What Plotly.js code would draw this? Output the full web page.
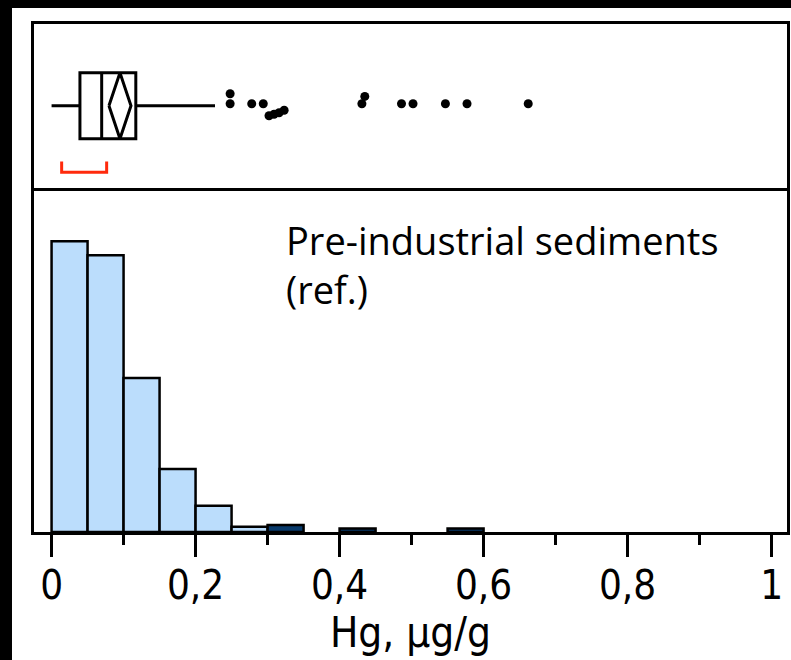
<!DOCTYPE html>
<html>
<head>
<meta charset="utf-8">
<script src="https://cdn.plot.ly/plotly-3.0.1.min.js"></script>
<style>html,body{margin:0;padding:0;background:#fff;}</style>
</head>
<body>
<div id="chart" style="width:791px;height:660px;"></div>
<script>
// ---- Histogram data (Hg, µg/g; bin width 0.05) ----
const binStart = [0, 0.05, 0.10, 0.15, 0.20, 0.25, 0.30, 0.40, 0.55];
const binCount = [166, 158, 88, 36, 15, 3, 4, 2, 2];
const binSelected = [0, 0, 0, 0, 0, 0, 1, 1, 1];
const binWidth = 0.05;

// ---- Box plot summary ----
const boxMin = [0.0];
const boxQ1 = [0.0394];
const boxMedian = [0.0696];
const boxQ3 = [0.117];
const boxUpperWhisker = [0.227];
const meanValue = 0.095;
const meanCI = [0.0797, 0.1103];
const shortestHalf = [0.014, 0.0765];

// ---- Outliers (x value, vertical jitter offset) ----
const outlierX = [0.248, 0.248, 0.278, 0.294, 0.302, 0.309, 0.316, 0.323, 0.431, 0.435, 0.486, 0.502, 0.547, 0.577, 0.662];
const outlierJitter = [0.147, 0.024, 0.024, 0.024, -0.122, -0.104, -0.086, -0.055, 0.024, 0.114, 0.024, 0.024, 0.024, 0.024, 0.024];

// ---- Axis ticks ----
const tickValues = [0, 0.2, 0.4, 0.6, 0.8, 1];
const tickLabels = ["0", "0,2", "0,4", "0,6", "0,8", "1"];
const minorTickValues = [0.1, 0.3, 0.5, 0.7, 0.9];

const axisTitle = "Hg, µg/g";
const labelText = "Pre-industrial sediments<br>(ref.)";

// ---- styling ----
const lightBlue = "rgb(187,221,252)";
const darkBlue = "rgb(8,58,107)";
const boxHeight = 0.807;
const halfH = boxHeight / 2;
const xRange = [-0.0244, 1.0214];

const traces = [
  {
    type: "bar",
    x: binStart,
    y: binCount,
    width: binWidth,
    offset: 0,
    marker: {
      color: binSelected.map(s => s ? darkBlue : lightBlue),
      line: {color: "black", width: 2.5}
    },
    xaxis: "x", yaxis: "y",
    hoverinfo: "skip"
  },
  {
    type: "box",
    orientation: "h",
    y: [0],
    lowerfence: boxMin,
    q1: boxQ1,
    median: boxMedian,
    q3: boxQ3,
    upperfence: boxUpperWhisker,
    width: boxHeight,
    whiskerwidth: 0,
    boxpoints: false,
    fillcolor: "white",
    line: {color: "black", width: 3},
    xaxis: "x2", yaxis: "y2",
    hoverinfo: "skip"
  },
  {
    type: "scatter",
    mode: "lines",
    x: [meanCI[0], meanValue, meanCI[1], meanValue, meanCI[0]],
    y: [0, halfH, 0, -halfH, 0],
    line: {color: "black", width: 3},
    xaxis: "x2", yaxis: "y2",
    hoverinfo: "skip"
  },
  {
    type: "scatter",
    mode: "markers",
    x: outlierX,
    y: outlierJitter,
    marker: {color: "black", size: 9},
    xaxis: "x2", yaxis: "y2",
    hoverinfo: "skip"
  },
  {
    type: "scatter",
    mode: "lines",
    x: [shortestHalf[0], shortestHalf[0], shortestHalf[1], shortestHalf[1]],
    y: [-0.681, -0.813, -0.813, -0.681],
    line: {color: "rgb(255,42,12)", width: 3},
    xaxis: "x2", yaxis: "y2",
    hoverinfo: "skip"
  }
];

const tickFont = {family: "DejaVu Sans Condensed, DejaVu Sans, sans-serif", size: 40, color: "black"};
const titleFont = {family: "DejaVu Sans Condensed, DejaVu Sans, sans-serif", size: 42, color: "black"};

const layout = {
  width: 791,
  height: 660,
  margin: {l: 34, r: 4, t: 24, b: 128, pad: 0},
  paper_bgcolor: "white",
  plot_bgcolor: "white",
  showlegend: false,
  xaxis: {
    domain: [0, 1],
    anchor: "y",
    range: xRange,
    showline: true, linewidth: 3, linecolor: "black", mirror: false,
    ticks: "outside", ticklen: 22, tickwidth: 3, tickcolor: "black",
    ticklabelstandoff: -6,
    tickmode: "array", tickvals: tickValues, ticktext: tickLabels,
    tickfont: tickFont,
    minor: {tickmode: "array", tickvals: minorTickValues, ticks: "outside", ticklen: 10, tickwidth: 3, tickcolor: "black", showgrid: false},
    showgrid: false, zeroline: false,
    title: {text: axisTitle, font: titleFont, standoff: 0}
  },
  xaxis2: {
    domain: [0, 1],
    anchor: "y2",
    matches: "x",
    range: xRange,
    showline: true, linewidth: 3, linecolor: "black", mirror: true,
    ticks: "", showticklabels: false, showgrid: false, zeroline: false
  },
  yaxis: {
    domain: [0, 0.6722],
    anchor: "x",
    range: [0, 195],
    showline: true, linewidth: 3, linecolor: "black", mirror: true,
    ticks: "", showticklabels: false, showgrid: false, zeroline: false
  },
  yaxis2: {
    domain: [0.6781, 1],
    anchor: "x2",
    range: [-1, 1],
    showline: true, linewidth: 3, linecolor: "black", mirror: true,
    ticks: "", showticklabels: false, showgrid: false, zeroline: false
  },
  annotations: [
    {
      text: labelText,
      xref: "x", yref: "paper",
      x: 0.323, y: 0.63,
      xanchor: "left", yanchor: "top", align: "left",
      showarrow: false,
      font: {family: "Open Sans, sans-serif", size: 38, color: "black"}
    }
  ],
  shapes: [
    {type: "rect", xref: "paper", yref: "paper", x0: -0.1, x1: -0.02922, y0: -0.5, y1: 1.5, fillcolor: "black", line: {width: 0}, layer: "above"},
    {type: "rect", xref: "paper", yref: "paper", x0: -0.1, x1: 1.1, y0: 1.0315, y1: 1.5, fillcolor: "black", line: {width: 0}, layer: "above"}
  ]
};

Plotly.newPlot("chart", traces, layout, {displayModeBar: false, staticPlot: true});
</script>
</body>
</html>
